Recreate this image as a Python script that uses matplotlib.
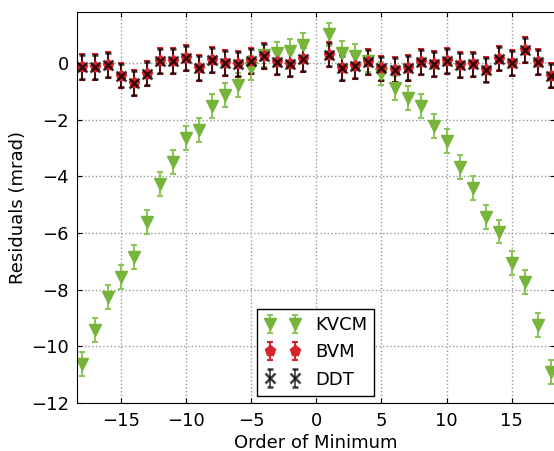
import matplotlib
matplotlib.use('Agg')
import matplotlib.pyplot as plt
import numpy as np

orders = [-18, -17, -16, -15, -14, -13, -12, -11, -10, -9, -8, -7, -6, -5, -4, -3, -2, -1,
          1, 2, 3, 4, 5, 6, 7, 8, 9, 10, 11, 12, 13, 14, 15, 16, 17, 18]

kvcm = [-10.61, -9.43, -8.27, -7.54, -6.84, -5.62, -4.26, -3.51, -2.65, -2.36, -1.51, -1.15,
        -0.77, -0.18, 0.28, 0.33, 0.41, 0.63,
        1.0, 0.36, 0.24, 0.08, -0.38, -0.88, -1.24, -1.53, -2.22, -2.77, -3.66, -4.42,
        -5.45, -5.95, -7.07, -7.72, -9.25, -10.9]
kvcm_err = [0.42] * len(orders)

bvm = [-0.15, -0.15, -0.08, -0.45, -0.71, -0.38, 0.06, 0.06, 0.16, -0.18, 0.1, 0.0,
       -0.04, 0.06, 0.24, 0.03, -0.04, 0.14,
       0.29, -0.18, -0.12, 0.03, -0.2, -0.24, -0.18, 0.03, -0.04, 0.07, -0.08, -0.06,
       -0.24, 0.15, 0.0, 0.45, 0.03, -0.45]
bvm_err = [0.45] * len(orders)

ddt = bvm
ddt_err = [0.42] * len(orders)

green = '#77b53a'
red = '#d8232a'

fig = plt.figure(figsize=(5.54, 4.51), dpi=100)
ax = fig.add_axes([0.139, 0.106, 0.862, 0.868])

ax.errorbar(orders, kvcm, yerr=kvcm_err, fmt='v', color=green, ecolor='#8cc65a',
            markersize=8.5, capsize=2, elinewidth=1.5, capthick=1.5, label='KVCM')
ax.errorbar(orders, bvm, yerr=bvm_err, fmt='p', color=red, ecolor=red,
            markersize=8, capsize=2, elinewidth=1.5, capthick=1.5, label='BVM')
ax.errorbar(orders, ddt, yerr=ddt_err, fmt='x', color='black', ecolor='black', alpha=0.75,
            markersize=7, mew=1.8, capsize=2, elinewidth=1.2, capthick=1.5, label='DDT')

ax.set_xlim(-18.4, 18.3)
ax.set_ylim(-12, 1.8)
ax.set_xticks([-15, -10, -5, 0, 5, 10, 15])
ax.set_yticks([-12, -10, -8, -6, -4, -2, 0])
ax.grid(True, linestyle=':', color='#999999', linewidth=1)
ax.tick_params(direction='in', top=True, right=True, labelsize=13, pad=6)
ax.set_xlabel('Order of Minimum', fontsize=13, labelpad=3)
ax.set_ylabel('Residuals (mrad)', fontsize=13, labelpad=3)

leg = ax.legend(loc='lower center', bbox_to_anchor=(0.5, -0.004), numpoints=2,
                fancybox=False, edgecolor='black', fontsize=13, framealpha=1,
                handlelength=2.0)
leg.get_frame().set_linewidth(1)

fig.savefig('out.png', dpi=100)
